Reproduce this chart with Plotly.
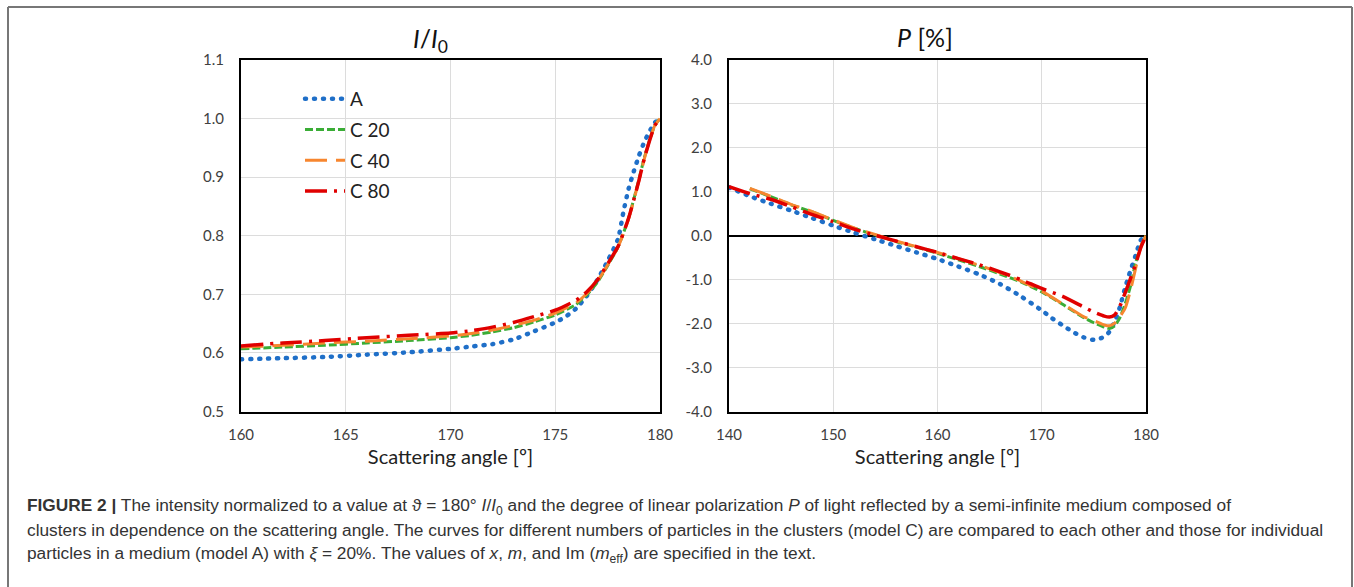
import plotly.graph_objects as go

# ---------------- data: left panel (I/I0) ----------------
ang_I_A = [160, 162, 164, 166, 168, 170, 171, 172, 173, 174, 175, 175.5, 176, 176.5, 177, 177.5,
           178, 178.25, 178.5, 178.75, 179, 179.25, 179.5, 179.75, 180]
I_A = [0.589, 0.591, 0.593, 0.597, 0.601, 0.607, 0.611, 0.615, 0.623, 0.637, 0.652, 0.662, 0.676,
       0.697, 0.724, 0.757, 0.795, 0.840, 0.880, 0.910, 0.937, 0.960, 0.978, 0.993, 1.000]

ang_I_C = [160, 162, 164, 166, 168, 170, 171, 172, 173, 174, 175, 176, 176.5, 177, 177.5,
           178, 178.5, 179, 179.25, 179.5, 179.75, 180]
I_C20 = [0.607, 0.610, 0.613, 0.617, 0.621, 0.626, 0.630, 0.636, 0.643, 0.653, 0.665, 0.683, 0.699,
         0.720, 0.749, 0.781, 0.830, 0.897, 0.933, 0.963, 0.988, 1.000]
I_C40 = [0.610, 0.613, 0.617, 0.620, 0.624, 0.629, 0.633, 0.639, 0.647, 0.656, 0.668, 0.686, 0.701,
         0.722, 0.750, 0.781, 0.829, 0.895, 0.931, 0.962, 0.988, 1.000]
I_C80 = [0.612, 0.617, 0.621, 0.626, 0.630, 0.634, 0.638, 0.644, 0.652, 0.662, 0.673, 0.690, 0.704,
         0.724, 0.752, 0.782, 0.830, 0.895, 0.932, 0.962, 0.988, 1.000]

# ---------------- data: right panel (P %) ----------------
ang_P_A = [140, 142, 144, 146, 148, 150, 152, 154, 156, 158, 160, 162, 164, 166, 168, 170, 171, 172,
           173, 174, 175, 176, 176.5, 177, 177.5, 178, 178.5, 179, 179.5, 180]
P_A = [1.10, 0.90, 0.73, 0.57, 0.40, 0.23, 0.07, -0.08, -0.23, -0.38, -0.53, -0.70, -0.88, -1.10,
       -1.38, -1.70, -1.88, -2.04, -2.19, -2.31, -2.37, -2.30, -2.18, -1.95, -1.62, -1.18, -0.80,
       -0.45, -0.10, 0.00]

ang_P_C80 = [140, 142, 144, 146, 148, 150, 152, 154, 156, 158, 160, 162, 164, 166, 168, 170, 172,
             174, 175, 176, 176.5, 177, 177.5, 178, 178.5, 179, 179.5, 180]
P_C80 = [1.12, 0.96, 0.83, 0.66, 0.48, 0.32, 0.15, 0.01, -0.12, -0.25, -0.38, -0.52, -0.66, -0.82,
         -1.00, -1.20, -1.38, -1.62, -1.74, -1.83, -1.85, -1.80, -1.60, -1.30, -0.98, -0.65, -0.27, 0.00]

ang_P_C = [142, 144, 146, 148, 150, 152, 154, 156, 158, 160, 162, 164, 166, 168, 170, 172, 174, 175,
           176, 176.5, 177, 177.5, 178, 178.5, 179, 179.5, 180]
P_C40 = [1.08, 0.90, 0.71, 0.55, 0.36, 0.18, 0.03, -0.12, -0.25, -0.38, -0.52, -0.67, -0.84, -1.03,
         -1.26, -1.55, -1.84, -1.93, -2.03, -2.05, -1.99, -1.84, -1.65, -1.25, -0.75, -0.25, 0.00]
P_C20 = [1.07, 0.89, 0.70, 0.54, 0.35, 0.17, 0.02, -0.13, -0.26, -0.40, -0.55, -0.70, -0.87, -1.05,
         -1.28, -1.56, -1.86, -1.98, -2.08, -2.11, -2.05, -1.86, -1.55, -1.16, -0.62, -0.25, 0.00]

series_names = ["A", "C 20", "C 40", "C 80"]
left_ticks = [0.5, 0.6, 0.7, 0.8, 0.9, 1.0, 1.1]
right_ticks = [-4, -3, -2, -1, 0, 1, 2, 3, 4]

# ---------------- styles ----------------
W, H = 1354, 587
col = {"A": "#1f6fc8", "C 20": "#3aad36", "C 40": "#f7862f", "C 80": "#e00000"}
dash = {"A": "1px,8px", "C 20": "8px,3px", "C 40": "22px,9px", "C 80": "22px,7px,3px,7px"}
width = {"A": 4.5, "C 20": 3, "C 40": 3, "C 80": 3.5}

fig = go.Figure()

left = [(ang_I_A, I_A), (ang_I_C, I_C20), (ang_I_C, I_C40), (ang_I_C, I_C80)]
right = [(ang_P_A, P_A), (ang_P_C, P_C20), (ang_P_C, P_C40), (ang_P_C80, P_C80)]

for name, (x, y) in zip(series_names, left):
    fig.add_trace(go.Scatter(x=x, y=y, mode="lines", name=name, legendgroup=name,
                             line=dict(color=col[name], width=width[name], dash=dash[name], shape="spline", smoothing=0.6),
                             xaxis="x", yaxis="y"))
for name, (x, y) in zip(series_names, right):
    fig.add_trace(go.Scatter(x=x, y=y, mode="lines", name=name, legendgroup=name, showlegend=False,
                             line=dict(color=col[name], width=width[name], dash=dash[name], shape="spline", smoothing=0.6),
                             xaxis="x2", yaxis="y2"))

FONT = "Lato, Open Sans, sans-serif"
tickfont = dict(family=FONT, size=15, color="#404040")
ax_common = dict(showline=True, mirror=True, linecolor="black", linewidth=2, showgrid=True,
                 gridcolor="#dcdcdc", gridwidth=1, ticks="", tickfont=tickfont, automargin=False)
xtitle = dict(text="Scattering angle [º]", font=dict(family=FONT, size=20, color="#222"), standoff=8)

y_top = 1 - 60 / H
y_bot = 1 - 411.5 / H

fig.update_layout(
    template="none",
    width=W, height=H, autosize=False,
    margin=dict(l=0, r=0, t=0, b=0, pad=0),
    paper_bgcolor="white", plot_bgcolor="white",
    showlegend=True,
    legend=dict(x=300 / W, y=1 - 80 / H, xanchor="left", yanchor="top",
                font=dict(family=FONT, size=19, color="#222"),
                bgcolor="rgba(0,0,0,0)", traceorder="grouped", tracegroupgap=3,
                itemwidth=40),
    xaxis=dict(domain=[241 / W, 660 / W], range=[160, 180], dtick=5, anchor="y",
               title=xtitle, ticklabelstandoff=8, **ax_common),
    yaxis=dict(domain=[y_bot, y_top], range=[0.5, 1.1], tickvals=left_ticks,
               ticktext=[f"{v:.1f}" for v in left_ticks], anchor="x",
               ticklabelstandoff=12, zeroline=False, **ax_common),
    xaxis2=dict(domain=[729 / W, 1146 / W], range=[140, 180], dtick=10, anchor="y2",
                title=xtitle, ticklabelstandoff=8, **ax_common),
    yaxis2=dict(domain=[y_bot, y_top], range=[-4, 4], tickvals=right_ticks,
                ticktext=[f"{v:.1f}" for v in right_ticks], anchor="x2",
                ticklabelstandoff=12, zeroline=True, zerolinecolor="black", zerolinewidth=1.5, **ax_common),
)

# panel titles
title_font = dict(family=FONT, size=25, color="#111")
fig.add_annotation(text="<i>I</i>/<i>I</i><sub>0</sub>", x=430 / W, y=1 - 40 / H, xref="paper", yref="paper",
                   showarrow=False, font=title_font, xanchor="center", yanchor="middle")
fig.add_annotation(text="<i>P</i> [%]", x=925 / W, y=1 - 37 / H, xref="paper", yref="paper",
                   showarrow=False, font=title_font, xanchor="center", yanchor="middle")

# caption
cap_font = dict(family="Liberation Sans, Arial, sans-serif", size=17.3, color="#333")
caption = [
    "<b>FIGURE 2 |</b> The intensity normalized to a value at ϑ = 180° <i>I</i>/<i>I</i><sub>0</sub> and the degree of linear polarization <i>P</i> of light reflected by a semi-infinite medium composed of",
    "clusters in dependence on the scattering angle. The curves for different numbers of particles in the clusters (model C) are compared to each other and those for individual",
    "particles in a medium (model A) with <i>ξ</i> = 20%. The values of <i>x</i>, <i>m</i>, and Im (<i>m</i><sub>eff</sub>) are specified in the text.",
]
for i, line in enumerate(caption):
    fig.add_annotation(text=line, x=25 / W, y=1 - (506 + 24 * i) / H, xref="paper", yref="paper",
                       showarrow=False, font=cap_font, xanchor="left", yanchor="middle", align="left")

# outer frame
frame = dict(color="#777777", width=2)
fig.add_shape(type="line", xref="paper", yref="paper", x0=8 / W, x1=1352 / W, y0=1 - 7 / H, y1=1 - 7 / H, line=frame)
fig.add_shape(type="line", xref="paper", yref="paper", x0=8 / W, x1=8 / W, y0=1 - 7 / H, y1=-0.05, line=frame)
fig.add_shape(type="line", xref="paper", yref="paper", x0=1352 / W, x1=1352 / W, y0=1 - 7 / H, y1=-0.05, line=frame)

post = (
    "document.body.style.margin='0';document.body.style.overflow='hidden';"
    "document.querySelectorAll('path').forEach(function(p){"
    "var s=p.style.stroke||'';"
    "if(s.indexOf('31, 111, 200')>=0){p.style.strokeLinecap='round';}});"
)
fig.write_html("out.html", config={"displayModeBar": False}, post_script=post)
